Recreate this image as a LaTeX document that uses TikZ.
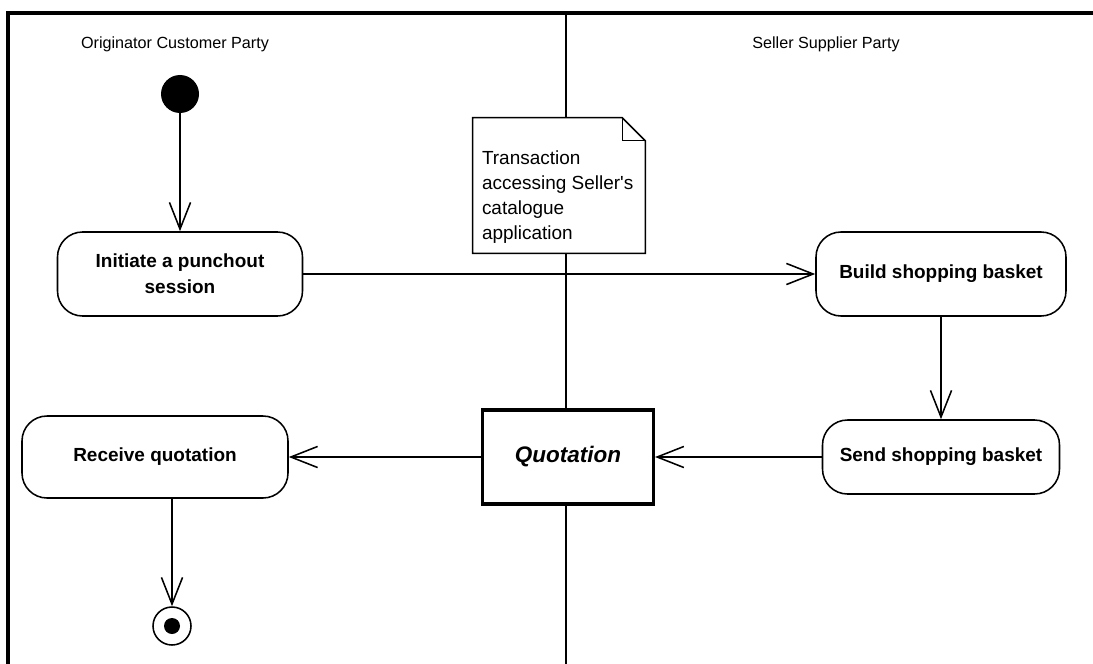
\documentclass[tikz,border=0pt]{standalone}
\usepackage{fontspec}
\setmainfont{Liberation Sans}
\usetikzlibrary{arrows.meta,positioning,calc}
\definecolor{Ink}{HTML}{000000}
\definecolor{Paper}{HTML}{FFFFFF}
\tikzset{
  action/.style={draw=Ink,line width=1.1pt,rounded corners=6.25mm,inner sep=0pt,align=center,fill=Paper,text=Ink,font=\fontsize{13.5}{18.5}\selectfont\bfseries},
  objbox/.style={draw=Ink,line width=2.2pt,inner sep=0pt,minimum width=42.75mm,minimum height=23.5mm,fill=Paper,text=Ink,font=\fontsize{16}{19}\selectfont\bfseries\itshape},
  notebox/.style={inner sep=0pt,minimum width=43mm,minimum height=33.75mm},
  notetext/.style={inner sep=0pt,align=left,text=Ink,font=\fontsize{13.5}{17.8}\selectfont},
  lanetitle/.style={text=Ink,font=\fontsize{11.5}{14}\selectfont},
  startnode/.style={circle,fill=Ink,inner sep=0pt,minimum size=9.5mm},
  endnode/.style={circle,draw=Ink,line width=1.1pt,fill=Paper,inner sep=0pt,minimum size=9.5mm},
  enddot/.style={circle,fill=Ink,inner sep=0pt,minimum size=4mm},
  frame/.style={draw=Ink,line width=2.2pt},
  divider/.style={draw=Ink,line width=1.1pt},
  flowline/.style={line width=1.1pt,draw=Ink},
  arrow/.style={-{Straight Barb[length=19pt,width=15pt]},line width=1.1pt,draw=Ink}
}
\begin{document}
\begin{tikzpicture}[x=0.25mm,y=-0.25mm]
  \useasboundingbox (0,0) rectangle (1093,664);
  % swimlanes
  \draw[frame] (8,664) -- (8,13) -- (1093,13);
  \draw[divider] (566,13) -- (566,664);
  \node[lanetitle] (custlane) at (175,44) {Originator Customer Party};
  \node[lanetitle] (sellane) at (826,44) {Seller Supplier Party};
  % note
  \node[notebox] (note) at (559,185.5) {};
  \draw[flowline,fill=Paper] (note.north west) -- ($(note.north east)+(-23,0)$) -- ($(note.north east)+(0,23)$) -- (note.south east) -- (note.south west) -- cycle;
  \draw[flowline] ($(note.north east)+(-23,0)$) |- ($(note.north east)+(0,23)$);
  \node[notetext,anchor=north west] (notetxt) at ($(note.north west)+(9,33)$) {Transaction\\accessing Seller\textquotesingle s\\catalogue\\application};
  % actions
  \node[startnode] (start) at (180,94) {};
  \node[action,minimum width=61.25mm,minimum height=21mm] (initiate) at (180,274) {Initiate a punchout\\session};
  \node[action,minimum width=62.5mm,minimum height=21mm] (build) at (941,274) {Build shopping basket};
  \node[action,minimum width=59.25mm,minimum height=18.5mm] (send) at (941,457) {Send shopping basket};
  \node[objbox] (quote) at (568,457) {Quotation};
  \node[action,minimum width=66.5mm,minimum height=20.5mm] (receive) at (155,457) {Receive quotation};
  \node[endnode] (final) at (172,626) {};
  \node[enddot] (finaldot) at (final) {};
  % flows
  \draw[arrow] (start) -- (initiate);
  \draw[arrow] (initiate) -- (build);
  \draw[arrow] (build) -- (send);
  \draw[arrow] (send) -- (quote);
  \draw[arrow] (quote) -- (receive);
  \draw[arrow] (final |- receive.south) -- (final);
\end{tikzpicture}
\end{document}
